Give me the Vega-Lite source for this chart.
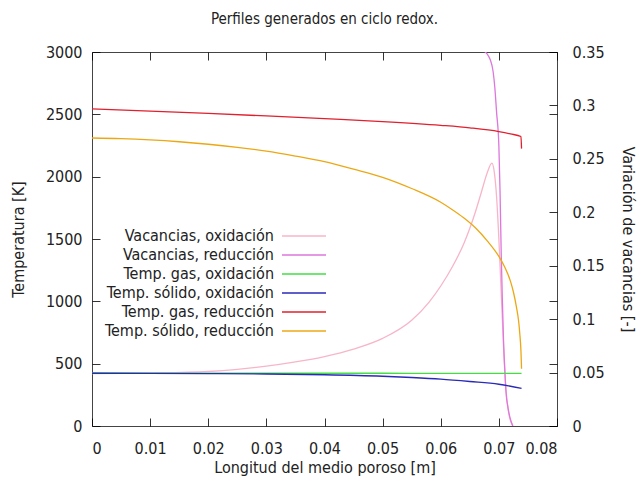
{
  "$schema": "https://vega.github.io/schema/vega-lite/v6.json",
  "width": 465,
  "height": 374,
  "padding": {"left": 10, "top": 12, "right": 3, "bottom": 10},
  "background": "white",
  "title": {"text": "Perfiles generados en ciclo redox.", "fontSize": 15, "fontWeight": "normal", "color": "#222", "offset": 17, "anchor": "middle", "font": "DejaVu Sans Condensed"},
  "config": {
    "font": "DejaVu Sans Condensed",
    "view": {"stroke": "#444", "strokeWidth": 1}
  },
  "datasets": {
    "temperaturas": [
      {"serie": "Temp. gas, oxidación", "x": 0, "T": 425},
      {"serie": "Temp. gas, oxidación", "x": 0.01, "T": 424},
      {"serie": "Temp. gas, oxidación", "x": 0.02, "T": 424},
      {"serie": "Temp. gas, oxidación", "x": 0.03, "T": 423},
      {"serie": "Temp. gas, oxidación", "x": 0.04, "T": 423},
      {"serie": "Temp. gas, oxidación", "x": 0.05, "T": 423},
      {"serie": "Temp. gas, oxidación", "x": 0.06, "T": 422},
      {"serie": "Temp. gas, oxidación", "x": 0.07, "T": 422},
      {"serie": "Temp. gas, oxidación", "x": 0.0739, "T": 422},
      {"serie": "Temp. sólido, oxidación", "x": 0, "T": 423},
      {"serie": "Temp. sólido, oxidación", "x": 0.01, "T": 422},
      {"serie": "Temp. sólido, oxidación", "x": 0.02, "T": 420},
      {"serie": "Temp. sólido, oxidación", "x": 0.03, "T": 417},
      {"serie": "Temp. sólido, oxidación", "x": 0.04, "T": 411},
      {"serie": "Temp. sólido, oxidación", "x": 0.05, "T": 399},
      {"serie": "Temp. sólido, oxidación", "x": 0.055, "T": 389},
      {"serie": "Temp. sólido, oxidación", "x": 0.06, "T": 376},
      {"serie": "Temp. sólido, oxidación", "x": 0.065, "T": 357},
      {"serie": "Temp. sólido, oxidación", "x": 0.07, "T": 335},
      {"serie": "Temp. sólido, oxidación", "x": 0.0739, "T": 302},
      {"serie": "Temp. gas, reducción", "x": 0, "T": 2543},
      {"serie": "Temp. gas, reducción", "x": 0.01, "T": 2526},
      {"serie": "Temp. gas, reducción", "x": 0.02, "T": 2507},
      {"serie": "Temp. gas, reducción", "x": 0.03, "T": 2487},
      {"serie": "Temp. gas, reducción", "x": 0.04, "T": 2465},
      {"serie": "Temp. gas, reducción", "x": 0.05, "T": 2442},
      {"serie": "Temp. gas, reducción", "x": 0.06, "T": 2412},
      {"serie": "Temp. gas, reducción", "x": 0.065, "T": 2392},
      {"serie": "Temp. gas, reducción", "x": 0.07, "T": 2362},
      {"serie": "Temp. gas, reducción", "x": 0.072, "T": 2343},
      {"serie": "Temp. gas, reducción", "x": 0.0738, "T": 2322},
      {"serie": "Temp. gas, reducción", "x": 0.0739, "T": 2225},
      {"serie": "Temp. sólido, reducción", "x": 0, "T": 2310},
      {"serie": "Temp. sólido, reducción", "x": 0.005, "T": 2305},
      {"serie": "Temp. sólido, reducción", "x": 0.01, "T": 2295},
      {"serie": "Temp. sólido, reducción", "x": 0.015, "T": 2280},
      {"serie": "Temp. sólido, reducción", "x": 0.02, "T": 2260},
      {"serie": "Temp. sólido, reducción", "x": 0.025, "T": 2235},
      {"serie": "Temp. sólido, reducción", "x": 0.03, "T": 2205},
      {"serie": "Temp. sólido, reducción", "x": 0.035, "T": 2165},
      {"serie": "Temp. sólido, reducción", "x": 0.04, "T": 2120},
      {"serie": "Temp. sólido, reducción", "x": 0.045, "T": 2060},
      {"serie": "Temp. sólido, reducción", "x": 0.05, "T": 1995},
      {"serie": "Temp. sólido, reducción", "x": 0.055, "T": 1905},
      {"serie": "Temp. sólido, reducción", "x": 0.06, "T": 1795},
      {"serie": "Temp. sólido, reducción", "x": 0.062, "T": 1735},
      {"serie": "Temp. sólido, reducción", "x": 0.064, "T": 1668},
      {"serie": "Temp. sólido, reducción", "x": 0.066, "T": 1588},
      {"serie": "Temp. sólido, reducción", "x": 0.068, "T": 1485},
      {"serie": "Temp. sólido, reducción", "x": 0.07, "T": 1360},
      {"serie": "Temp. sólido, reducción", "x": 0.071, "T": 1275},
      {"serie": "Temp. sólido, reducción", "x": 0.072, "T": 1160},
      {"serie": "Temp. sólido, reducción", "x": 0.0725, "T": 1075},
      {"serie": "Temp. sólido, reducción", "x": 0.073, "T": 960},
      {"serie": "Temp. sólido, reducción", "x": 0.0734, "T": 840},
      {"serie": "Temp. sólido, reducción", "x": 0.0736, "T": 740},
      {"serie": "Temp. sólido, reducción", "x": 0.0738, "T": 600},
      {"serie": "Temp. sólido, reducción", "x": 0.0739, "T": 460}
    ],
    "vacancias": [
      {"serie": "Vacancias, oxidación", "x": 0, "v": 0.049},
      {"serie": "Vacancias, oxidación", "x": 0.01, "v": 0.0495},
      {"serie": "Vacancias, oxidación", "x": 0.02, "v": 0.051},
      {"serie": "Vacancias, oxidación", "x": 0.025, "v": 0.053},
      {"serie": "Vacancias, oxidación", "x": 0.03, "v": 0.056},
      {"serie": "Vacancias, oxidación", "x": 0.035, "v": 0.06},
      {"serie": "Vacancias, oxidación", "x": 0.04, "v": 0.065},
      {"serie": "Vacancias, oxidación", "x": 0.045, "v": 0.072},
      {"serie": "Vacancias, oxidación", "x": 0.05, "v": 0.082},
      {"serie": "Vacancias, oxidación", "x": 0.055, "v": 0.099},
      {"serie": "Vacancias, oxidación", "x": 0.058, "v": 0.116},
      {"serie": "Vacancias, oxidación", "x": 0.06, "v": 0.131},
      {"serie": "Vacancias, oxidación", "x": 0.062, "v": 0.149},
      {"serie": "Vacancias, oxidación", "x": 0.064, "v": 0.171},
      {"serie": "Vacancias, oxidación", "x": 0.065, "v": 0.185},
      {"serie": "Vacancias, oxidación", "x": 0.066, "v": 0.201},
      {"serie": "Vacancias, oxidación", "x": 0.067, "v": 0.219},
      {"serie": "Vacancias, oxidación", "x": 0.068, "v": 0.237},
      {"serie": "Vacancias, oxidación", "x": 0.0688, "v": 0.246},
      {"serie": "Vacancias, oxidación", "x": 0.0692, "v": 0.238},
      {"serie": "Vacancias, oxidación", "x": 0.0696, "v": 0.215},
      {"serie": "Vacancias, oxidación", "x": 0.07, "v": 0.175},
      {"serie": "Vacancias, oxidación", "x": 0.0704, "v": 0.125},
      {"serie": "Vacancias, oxidación", "x": 0.0708, "v": 0.075},
      {"serie": "Vacancias, oxidación", "x": 0.0712, "v": 0.035},
      {"serie": "Vacancias, oxidación", "x": 0.0717, "v": 0.012},
      {"serie": "Vacancias, oxidación", "x": 0.0724, "v": 0},
      {"serie": "Vacancias, reducción", "x": 0, "v": 0.4},
      {"serie": "Vacancias, reducción", "x": 0.065, "v": 0.4},
      {"serie": "Vacancias, reducción", "x": 0.066, "v": 0.38},
      {"serie": "Vacancias, reducción", "x": 0.0668, "v": 0.358},
      {"serie": "Vacancias, reducción", "x": 0.0675, "v": 0.351},
      {"serie": "Vacancias, reducción", "x": 0.068, "v": 0.348},
      {"serie": "Vacancias, reducción", "x": 0.0685, "v": 0.343},
      {"serie": "Vacancias, reducción", "x": 0.069, "v": 0.332},
      {"serie": "Vacancias, reducción", "x": 0.0693, "v": 0.317},
      {"serie": "Vacancias, reducción", "x": 0.0696, "v": 0.294},
      {"serie": "Vacancias, reducción", "x": 0.07, "v": 0.262},
      {"serie": "Vacancias, reducción", "x": 0.0702, "v": 0.22},
      {"serie": "Vacancias, reducción", "x": 0.0704, "v": 0.162},
      {"serie": "Vacancias, reducción", "x": 0.0706, "v": 0.118},
      {"serie": "Vacancias, reducción", "x": 0.0708, "v": 0.08},
      {"serie": "Vacancias, reducción", "x": 0.071, "v": 0.055},
      {"serie": "Vacancias, reducción", "x": 0.0712, "v": 0.034},
      {"serie": "Vacancias, reducción", "x": 0.0716, "v": 0.016},
      {"serie": "Vacancias, reducción", "x": 0.0719, "v": 0.008},
      {"serie": "Vacancias, reducción", "x": 0.0724, "v": 0}
    ]
  },
  "layer": [
    {
      "data": {"name": "vacancias"},
      "mark": {"type": "line", "strokeWidth": 1.3, "clip": true, "interpolate": "monotone"},
      "encoding": {
        "x": {"field": "x", "type": "quantitative", "scale": {"domain": [0, 0.08], "nice": false},
          "axis": {"orient": "bottom", "title": "Longitud del medio poroso [m]", "values": [0, 0.01, 0.02, 0.03, 0.04, 0.05, 0.06, 0.07, 0.08], "format": "~g", "domain": false, "ticks": false, "labelPadding": 14, "labelFontSize": 16, "labelColor": "#222", "titleFontSize": 16, "titleFontWeight": "normal", "titleColor": "#222", "titleY": 41, "titleBaseline": "middle", "grid": true, "gridColor": "black", "gridWidth": 1, "gridOpacity": 0.8, "gridDash": [8, 358]}},
        "y": {"field": "v", "type": "quantitative", "scale": {"domain": [0, 0.35], "nice": false},
          "axis": {"orient": "right", "title": "Variación de vacancias [-]", "values": [0, 0.05, 0.1, 0.15, 0.2, 0.25, 0.3, 0.35], "format": "~g", "domain": false, "ticks": false, "labelPadding": 15, "labelFontSize": 16, "labelColor": "#222", "titleFontSize": 16, "titleFontWeight": "normal", "titleColor": "#222", "titleX": 70, "titleBaseline": "middle", "grid": true, "gridColor": "black", "gridWidth": 1, "gridOpacity": 0.8, "gridDash": [8, 1000]}},
        "color": {"field": "serie", "type": "nominal", "sort": null,
          "scale": {"domain": ["Vacancias, oxidación", "Vacancias, reducción", "Temp. gas, oxidación", "Temp. sólido, oxidación", "Temp. gas, reducción", "Temp. sólido, reducción"], "range": ["#f7b5c8", "#dd77dd", "#44dd44", "#2a2ab8", "#e0202e", "#eca814"]},
          "legend": {"title": null, "orient": "none", "legendX": 201, "legendY": 173, "padding": 0, "offset": 0, "symbolType": "M-2.2,0H2.2", "symbolSize": 400, "symbolStrokeWidth": 1.3, "labelAlign": "right", "labelOffset": -41, "labelFontSize": 16, "labelColor": "#222", "rowPadding": 0, "labelLimit": 300}
        }
      }
    },
    {
      "data": {"name": "temperaturas"},
      "mark": {"type": "line", "strokeWidth": 1.3, "clip": true, "interpolate": "monotone"},
      "encoding": {
        "x": {"field": "x", "type": "quantitative", "scale": {"domain": [0, 0.08], "nice": false},
          "axis": {"orient": "bottom", "title": "Longitud del medio poroso [m]", "values": [0, 0.01, 0.02, 0.03, 0.04, 0.05, 0.06, 0.07, 0.08], "format": "~g", "domain": false, "ticks": false, "labelPadding": 14, "labelFontSize": 16, "labelColor": "#222", "titleFontSize": 16, "titleFontWeight": "normal", "titleColor": "#222", "titleY": 41, "titleBaseline": "middle", "grid": true, "gridColor": "black", "gridWidth": 1, "gridOpacity": 0.8, "gridDash": [8, 358]}},
        "y": {"field": "T", "type": "quantitative", "scale": {"domain": [0, 3000], "nice": false},
          "axis": {"orient": "left", "title": "Temperatura [K]", "values": [0, 500, 1000, 1500, 2000, 2500, 3000], "format": "d", "domain": false, "ticks": false, "labelPadding": 10, "labelFontSize": 16, "labelColor": "#222", "titleFontSize": 16, "titleFontWeight": "normal", "titleColor": "#222", "titleX": -74, "titleBaseline": "middle", "grid": true, "gridColor": "black", "gridWidth": 1, "gridOpacity": 0.8, "gridDash": [8, 449]}},
        "color": {"field": "serie", "type": "nominal", "sort": null}
      }
    }
  ],
  "resolve": {"scale": {"y": "independent"}, "axis": {"y": "independent"}}
}
